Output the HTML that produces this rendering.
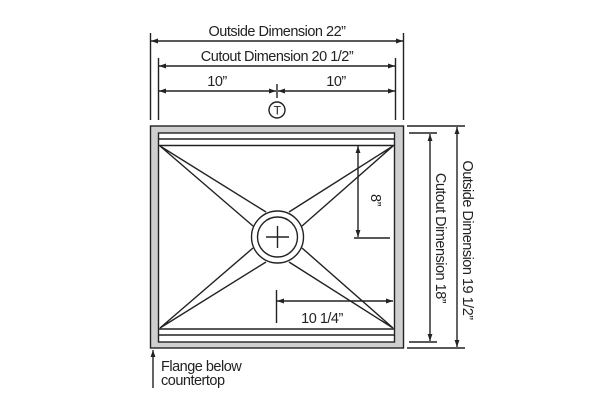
<!DOCTYPE html>
<html><head><style>body{margin:0;background:#fff}svg{display:block}text{font-family:"Liberation Sans",sans-serif;font-size:14.5px;fill:#222;letter-spacing:-0.5px}</style></head><body>
<svg width="606" height="404" viewBox="0 0 606 404" xmlns="http://www.w3.org/2000/svg">
<defs><marker id="a" viewBox="0 0 10 10" refX="10" refY="5" markerWidth="9" markerHeight="7" orient="auto-start-reverse" markerUnits="userSpaceOnUse"><path d="M0,1.5 L10,5 L0,8.5z" fill="#222"/></marker></defs>
<g stroke="#222" stroke-width="1.4" fill="none">
<rect x="150.5" y="126" width="253" height="222" fill="#cfcfd2"/>
<rect x="158.5" y="133" width="236" height="209" fill="#fff"/>
<line x1="159" y1="139" x2="394" y2="139"/><line x1="159" y1="145.5" x2="394" y2="145.5"/>
<line x1="159" y1="329" x2="394" y2="329"/><line x1="159" y1="335" x2="394" y2="335"/>
<path d="M160,146 L253,226 M160,146 L266,212 M393,146 L289,212 M393,146 L302,226 M160,328 L253,248 M160,328 L266,262 M393,328 L289,262 M393,328 L302,248"/>
<circle cx="277.5" cy="237" r="26" fill="#fff"/>
<circle cx="277.5" cy="237" r="20"/>
<path d="M266,237H289M277.5,226V248"/>
<path d="M150.5,33V120M403.5,33V120M158.5,58V120M395.5,58V120M277,84V98"/>
<line x1="151" y1="41" x2="403" y2="41" marker-start="url(#a)" marker-end="url(#a)"/>
<line x1="159" y1="66" x2="395" y2="66" marker-start="url(#a)" marker-end="url(#a)"/>
<line x1="159" y1="91" x2="276" y2="91" marker-start="url(#a)" marker-end="url(#a)"/>
<line x1="278" y1="91" x2="395" y2="91" marker-start="url(#a)" marker-end="url(#a)"/>
<circle cx="277" cy="110" r="8"/>
<path d="M407,126H465M409,133H437M409,342H437M407,348H465"/>
<line x1="457" y1="127" x2="457" y2="347" marker-start="url(#a)" marker-end="url(#a)"/>
<line x1="430" y1="134" x2="430" y2="341" marker-start="url(#a)" marker-end="url(#a)"/>
<path d="M354,238H390"/>
<line x1="358" y1="146" x2="358" y2="237" marker-start="url(#a)" marker-end="url(#a)"/>
<path d="M276.5,290V323"/>
<line x1="277" y1="301" x2="393" y2="301" marker-start="url(#a)" marker-end="url(#a)"/>
<line x1="153" y1="388" x2="153" y2="350" marker-end="url(#a)"/>
</g>
<text x="277" y="114.5" text-anchor="middle" style="font-size:12px">T</text>
<text x="277" y="36" text-anchor="middle">Outside Dimension 22”</text>
<text x="277" y="61" text-anchor="middle">Cutout Dimension 20 1/2”</text>
<text x="217" y="86" text-anchor="middle">10”</text>
<text x="336" y="86" text-anchor="middle">10”</text>
<text x="322" y="323" text-anchor="middle">10 1/4”</text>
<text transform="translate(371,200) rotate(90)" text-anchor="middle">8”</text>
<text transform="translate(436,238) rotate(90)" text-anchor="middle">Cutout Dimension 18”</text>
<text transform="translate(463,240) rotate(90)" text-anchor="middle">Outside Dimension 19 1/2”</text>
<text x="161" y="371">Flange below</text>
<text x="161" y="385">countertop</text>
</svg>
</body></html>
